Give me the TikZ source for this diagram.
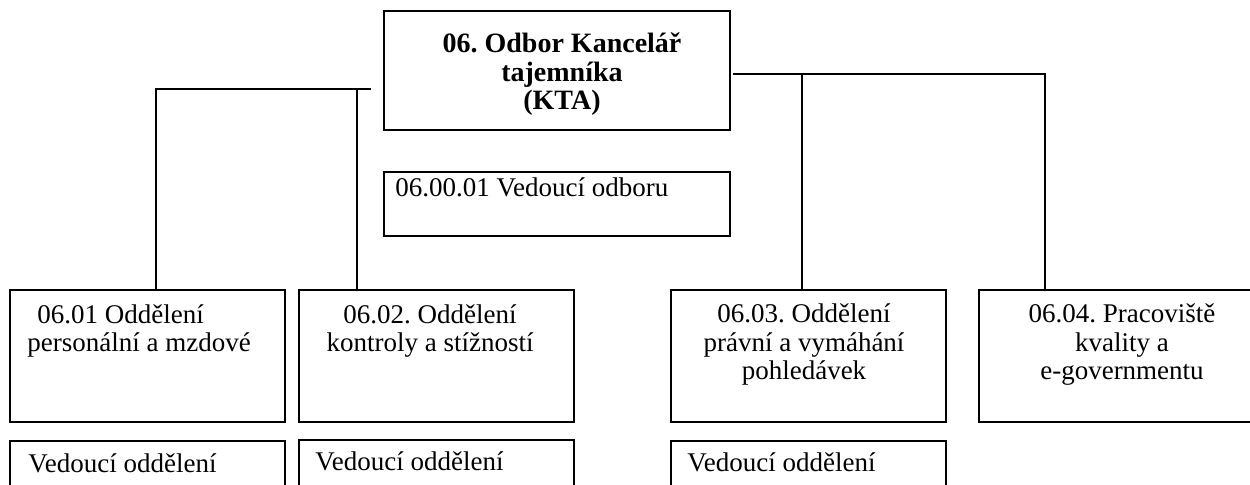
\documentclass[tikz,border=0pt]{standalone}
\usepackage{fontspec}
\setmainfont{Liberation Serif}
\frenchspacing
\usetikzlibrary{positioning}

\begin{document}
\begin{tikzpicture}[x=0.5pt, y=-0.5pt,
    every node/.append style={inner sep=0pt, font=\fontsize{13.5pt}{14.25pt}\selectfont},
    unit/.style={draw, line width=1pt, anchor=north west, minimum width=137.5pt, minimum height=66pt},
    head/.style={draw, line width=1pt, minimum width=173pt},
    lbl/.style={anchor=base, align=center},
    conn/.style={line width=1pt}]
   \useasboundingbox (0,0) rectangle (1250,485);

   \node [head, anchor=north west, minimum height=59.5pt] (KTA) at (383,10) {};
   \node [head, minimum height=32pt, below=20pt of KTA] (VO) {};

   \node [unit] (O1) at (9,289) {};
   \node [unit, right=6pt of O1] (O2) {};
   \node [unit] (O3) at (670,289) {};
   \node [unit, minimum width=144pt] (O4) at (978,289) {};

   \node [unit, below=8.5pt of O1] (V1) {};
   \node [unit, below=8pt of O2] (V2) {};
   \node [unit, below=8.5pt of O3] (V3) {};

   % base = baseline of the last line
   \node [lbl, font=\fontsize{14pt}{14.25pt}\selectfont\bfseries] (tKTA) at (562,110)
      {06. Odbor Kancelář\\tajemníka\\(KTA)};
   \node [anchor=base west] (tVO) at (395,197) {06.00.01 Vedoucí odboru};
   \node [anchor=base west, align=left] (tO1) at (27,352) {\hspace*{5pt}06.01 Oddělení\\personální a mzdové};
   \node [lbl] (tO2) at (430,352) {06.02. Oddělení\\kontroly a stížností};
   \node [lbl] (tO3) at (804,380) {06.03. Oddělení\\právní a vymáhání\\pohledávek};
   \node [lbl] (tO4) at (1122,380) {06.04. Pracoviště\\kvality a\\e-governmentu};
   \node [anchor=base west] (tV1) at (28,473) {Vedoucí oddělení};
   \node [anchor=base west] (tV2) at (315,471) {Vedoucí oddělení};
   \node [anchor=base west] (tV3) at (687,472) {Vedoucí oddělení};

   \coordinate (L0) at (371,89);
   \coordinate (L1) at (156,89);
   \coordinate (L2) at (357,89);
   \coordinate (R0) at (733,74);
   \coordinate (R1) at (802,74);
   \coordinate (R2) at (1045,74);

   \draw [conn] (L0) -- (L1) -- (L1 |- O1.north);
   \draw [conn] (L2) -- (L2 |- O2.north);
   \draw [conn] (R0) -- (R2) -- (R2 |- O4.north);
   \draw [conn] (R1) -- (R1 |- O3.north);
\end{tikzpicture}
\end{document}
